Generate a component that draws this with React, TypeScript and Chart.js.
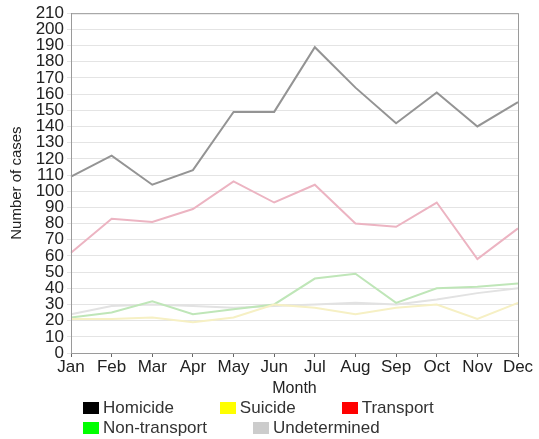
import React, { useEffect, useRef } from "react";
import { Chart, registerables } from "chart.js";

Chart.register(...registerables);

const months = ["Jan", "Feb", "Mar", "Apr", "May", "Jun", "Jul", "Aug", "Sep", "Oct", "Nov", "Dec"];
const homicide = [109, 122, 104, 113, 149, 149, 189, 164, 142, 161, 140, 155];
const suicide = [21, 21, 22, 19, 22, 30, 28, 24, 28, 30, 21, 31];
const transport = [62, 83, 81, 89, 106, 93, 104, 80, 78, 93, 58, 77];
const nonTransport = [22, 25, 32, 24, 27, 30, 46, 49, 31, 40, 41, 43];
const undetermined = [24, 29, 30, 29, 28, 29, 30, 31, 30, 33, 37, 40];

const seriesNames = ["Homicide", "Suicide", "Transport", "Non-transport", "Undetermined"];
const lineColors = ["#949494", "#f6f0c4", "#ecb4c2", "#bfe6b8", "#e2e2e2"];
const legendColors = ["#000000", "#ffff00", "#ff0000", "#00ff00", "#cccccc"];

const FONT = "'Liberation Sans', Arial, sans-serif";

const borderPlugin = {
  id: "plotBorder",
  afterDraw(chart: any) {
    const { ctx, chartArea } = chart;
    ctx.save();
    ctx.strokeStyle = "#9a9a9a";
    ctx.lineWidth = 1;
    ctx.strokeRect(chartArea.left + 0.5, chartArea.top + 0.5, chartArea.right - chartArea.left, chartArea.bottom - chartArea.top);
    ctx.restore();
  },
};

export default function App() {
  const ref = useRef<HTMLCanvasElement>(null);
  useEffect(() => {
    document.body.style.margin = "0";
    const values = [homicide, suicide, transport, nonTransport, undetermined];
    const chart = new Chart(ref.current!, {
      type: "line",
      data: {
        labels: months,
        datasets: seriesNames.map((name, i) => ({
          label: name,
          data: values[i],
          borderColor: lineColors[i],
          backgroundColor: legendColors[i],
          borderWidth: 2,
          pointRadius: 0,
          tension: 0,
        })),
      },
      options: {
        animation: false,
        responsive: false,
        maintainAspectRatio: false,
        layout: { padding: { left: 4, top: 13, right: 21, bottom: 41 } },
        plugins: { legend: { display: false }, tooltip: { enabled: false } },
        scales: {
          x: {
            offset: false,
            grid: { drawOnChartArea: false, tickLength: 4, color: "#666" },
            border: { color: "#888" },
            ticks: { font: { family: FONT, size: 17 }, color: "#222", padding: 0, maxRotation: 0, autoSkip: false },
            title: { display: true, text: "Month", font: { family: FONT, size: 16 }, color: "#222", padding: { top: 0, bottom: 0 } },
            afterFit: (s: any) => { s.height = 45; },
          },
          y: {
            min: 0,
            max: 210,
            grid: { color: "#e4e4e4", tickLength: 4 },
            border: { color: "#888" },
            ticks: { stepSize: 10, autoSkip: false, font: { family: FONT, size: 17 }, color: "#222", padding: 3 },
            title: { display: true, text: "Number of cases", font: { family: FONT, size: 15 }, color: "#222", padding: { top: 4, bottom: 0 } },
            afterFit: (s: any) => { s.width = 67; },
          },
        },
      },
      plugins: [borderPlugin],
    });
    return () => chart.destroy();
  }, []);

  return (
    <div style={{ position: "relative", width: 539, height: 439, background: "#fff" }}>
      <canvas ref={ref} width={539} height={439} style={{ position: "absolute", left: 0, top: 0 }} />
      <div
        style={{
          position: "absolute",
          left: 83,
          top: 398,
          width: 390,
          display: "flex",
          flexWrap: "wrap",
          columnGap: 46,
          rowGap: 0,
          fontFamily: FONT,
          fontSize: 17,
          color: "#333",
          lineHeight: "20px",
        }}
      >
        {seriesNames.map((name, i) => (
          <div key={name} style={{ display: "flex", alignItems: "center" }}>
            <span style={{ display: "inline-block", width: 16, height: 12, background: legendColors[i], marginRight: 4 }} />
            <span>{name}</span>
          </div>
        ))}
      </div>
    </div>
  );
}
